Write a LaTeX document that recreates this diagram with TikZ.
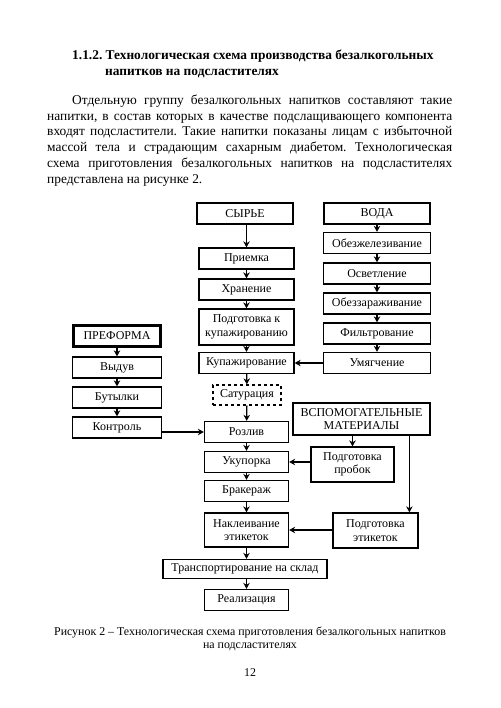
\documentclass[tikz,border=0pt]{standalone}
\usepackage{fontspec}
\setmainfont{Liberation Serif}
\usetikzlibrary{arrows.meta,positioning,calc}

\begin{document}
\frenchspacing
\begin{tikzpicture}[
    x=1pt,y=-1pt,
    box/.style={draw,line width=1.3pt,minimum width=84pt,minimum height=21pt,align=center,inner sep=1pt,font=\fontsize{12}{13.5}\selectfont},
    mainbox/.style={box,line width=2.8pt},
    dashbox/.style={box,dashed},
    ->/.style={-{Stealth[length=6pt,width=6.5pt]},line width=1.3pt},
    textline/.style={anchor=mid west,inner sep=0pt,font=\fontsize{13.4}{15}\selectfont},
]
\useasboundingbox (0,0) rectangle (500,708);

% Heading
\node[textline,font=\fontsize{13.4}{15}\selectfont\bfseries] (head1) at (72,57) {1.1.2. Технологическая схема производства безалкогольных};
\node[textline,font=\fontsize{13.4}{15}\selectfont\bfseries] (head2) at (105,73) {напитков на подсластителях};

% Paragraph
\node[textline] (par1) at (72,102) {\makebox[380pt][s]{Отдельную группу безалкогольных напитков составляют такие}};
\node[textline] (par2) at (47,118) {\makebox[405pt][s]{напитки, в состав которых в качестве подслащивающего компонента}};
\node[textline] (par3) at (47,133) {\makebox[405pt][s]{входят подсластители. Такие напитки показаны лицам с избыточной}};
\node[textline] (par4) at (47,149) {\makebox[405pt][s]{массой тела и страдающим сахарным диабетом. Технологическая}};
\node[textline] (par5) at (47,165) {\makebox[405pt][s]{схема приготовления безалкогольных напитков на подсластителях}};
\node[textline] (par6) at (47,181) {представлена на рисунке 2.};

% Raw materials line
\node[mainbox,minimum width=96pt] (raw) at (245,213.5) {СЫРЬЕ};
\node[box,minimum width=95pt] (accept) at (246.5,258.5) {Приемка};
\node[box,minimum width=95pt] (store) at (246.5,289.5) {Хранение};
\node[box,minimum width=95pt,minimum height=36pt] (prep) at (246.5,327) {Подготовка к\\купажированию};
\node[box,minimum width=95pt] (blend) at (246.5,363) {Купажирование};
\node[dashbox,minimum width=68pt,minimum height=20pt] (satur) at (247,395) {Сатурация};
\node[box] (pour) at (246.5,432) {Розлив};
\node[box] (cap) at (246.5,462) {Укупорка};
\node[box] (reject) at (246.5,491) {Бракераж};
\node[box,minimum height=34pt] (label) at (246.5,530) {Наклеивание\\этикеток};
\node[box,minimum width=164pt,minimum height=19pt] (transport) at (245,569) {Транспортирование на склад};
\node[box] (sale) at (246.5,600) {Реализация};

% Water line
\node[mainbox,minimum width=106pt] (water) at (377,213.5) {ВОДА};
\node[box,minimum width=107pt] (deiron) at (377,243) {Обезжелезивание};
\node[box,minimum width=107pt] (clarify) at (377,273.5) {Осветление};
\node[box,minimum width=107pt] (disinfect) at (377,303.5) {Обеззараживание};
\node[box,minimum width=107pt] (filter) at (377,333.5) {Фильтрование};
\node[box,minimum width=107pt] (soften) at (377,363) {Умягчение};

% Preform line
\node[mainbox,minimum width=87pt] (preform) at (117,336) {ПРЕФОРМА};
\node[box,minimum width=89pt] (blow) at (117,367.5) {Выдув};
\node[box,minimum width=89pt] (bottles) at (117,397.5) {Бутылки};
\node[box,minimum width=89pt] (control) at (117,427.5) {Контроль};

% Auxiliary materials
\node[mainbox,minimum width=137pt,minimum height=32pt] (aux) at (361.5,419) {ВСПОМОГАТЕЛЬНЫЕ\\МАТЕРИАЛЫ};
\node[box,minimum width=83pt,minimum height=35pt] (corks) at (352.5,464.5) {Подготовка\\пробок};
\node[box,minimum width=85pt,minimum height=35pt] (labelprep) at (375.5,530.5) {Подготовка\\этикеток};

% Arrows
\draw[->] (accept.north |- raw.south) -- (accept.north);
\draw[->] (accept) -- (store);
\draw[->] (store) -- (prep);
\draw[->] (prep) -- (blend);
\draw[->] (blend) -- (satur);
\draw[->] (satur) -- (pour);
\draw[->] (pour) -- (cap);
\draw[->] (cap) -- (reject);
\draw[->] (reject) -- (label);
\draw[->] (label.south) -- (label.south |- transport.north);
\draw[->] (sale.north |- transport.south) -- (sale.north);

\draw[->] (water) -- (deiron);
\draw[->] (deiron) -- (clarify);
\draw[->] (clarify) -- (disinfect);
\draw[->] (disinfect) -- (filter);
\draw[->] (filter) -- (soften);
\draw[->] (soften) -- (blend);

\draw[->] (preform) -- (blow);
\draw[->] (blow) -- (bottles);
\draw[->] (bottles) -- (control);
\draw[->] (control.east |- pour.west) -- (pour.west);

\coordinate (aux_lab) at ($(aux.south east)+(-22,0)$);
\draw[->] (corks.north |- aux.south) -- (corks.north);
\draw[->] (corks.west |- cap.east) -- (cap.east);
\draw[->] (aux_lab) -- (aux_lab |- labelprep.north);
\draw[->] (labelprep.west |- label.east) -- (label.east);

% Caption
\node[inner sep=0pt,font=\fontsize{11.9}{13}\selectfont] (cap1) at (250,633) {Рисунок 2 – Технологическая схема приготовления безалкогольных напитков};
\node[inner sep=0pt,font=\fontsize{11.9}{13}\selectfont] (cap2) at (250,647) {на подсластителях};
\node[inner sep=0pt,font=\fontsize{11.9}{13}\selectfont] (pagenum) at (250,673) {12};

\end{tikzpicture}
\end{document}
